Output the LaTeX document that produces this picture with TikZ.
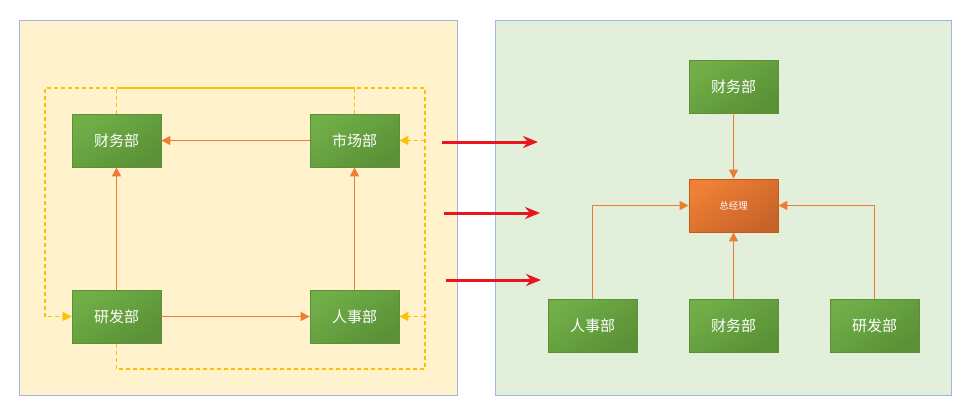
\documentclass[tikz,border=0pt]{standalone}
\usepackage{fontspec}
\newfontfamily\cjk{Noto Sans CJK SC}
\usetikzlibrary{arrows.meta}
\definecolor{PanelYellow}{HTML}{FFF2CC}
\definecolor{PanelGreen}{HTML}{E2EFDA}
\definecolor{PanelBlue}{HTML}{9DB9E0}
\definecolor{DeptLight}{HTML}{71AE48}
\definecolor{DeptDark}{HTML}{5A9136}
\definecolor{DeptLine}{HTML}{5B8F3A}
\definecolor{BossLight}{HTML}{EF8035}
\definecolor{BossDark}{HTML}{C8632A}
\definecolor{BossLine}{HTML}{C55A11}
\definecolor{OrgOrange}{HTML}{ED7D31}
\definecolor{OrgYellow}{HTML}{FFC000}
\definecolor{ArrowRed}{HTML}{E8161E}

\begin{document}
\begin{tikzpicture}[x=1pt, y=-1pt,
  every node/.style={font=\cjk\fontsize{15}{17}\selectfont, text=white},
  dept/.style={draw=DeptLine, line width=0.8pt,
               top color=DeptLight, bottom color=DeptDark, shading angle=35,
               minimum width=89pt, minimum height=53pt, inner sep=0pt},
  boss/.style={dept, draw=BossLine, top color=BossLight, bottom color=BossDark,
               shading angle=35, font=\cjk\fontsize{9.5}{11}\selectfont},
  panel/.style={draw=PanelBlue, line width=1pt},
  flow/.style={-{Triangle[length=9pt,width=9pt]}, OrgOrange, line width=1.4pt},
  link/.style={OrgYellow, line width=1.5pt, dash pattern=on 4pt off 3pt},
  linkarr/.style={link, -{Triangle[length=9pt,width=9pt]}},
  movearr/.style={-{Stealth[length=15pt,width=12pt]}, ArrowRed, line width=3pt},
]
\useasboundingbox (0,0) rectangle (970,416);

%% ── Panels ───────────────────────────────────
\fill[white] (0,0) rectangle (970,416);
\draw[panel, fill=PanelYellow] (19.5,20.5) rectangle (457.5,395);
\draw[panel, fill=PanelGreen]  (495,20.5)  rectangle (951,395);

%% ── Left: departments ────────────────────────
\node[dept] at (116.5,140.5) (fin) {财务部};
\node[dept] at (354.5,140.5) (mkt) {市场部};
\node[dept] at (116.5,316.5) (rd)  {研发部};
\node[dept] at (354.5,316.5) (hr)  {人事部};

%% ── Left: corners of the dashed loop ─────────
\coordinate (topl) at (45,88);
\coordinate (topr) at (425,88);
\coordinate (botr) at (425,369);

%% ── Left: orange flow ────────────────────────
\draw[flow] (mkt.west)  -- (fin.east);
\draw[flow] (rd.north)  -- (fin.south);
\draw[flow] (rd.east)   -- (hr.west);
\draw[flow] (hr.north)  -- (mkt.south);

%% ── Left: yellow loop ────────────────────────
\draw[OrgYellow, line width=1.5pt] (fin.north |- topl) -- (mkt.north |- topl);
\draw[linkarr] (fin.north) -- (fin.north |- topl) -- (topl)
    -- (topl |- rd.west) -- (rd.west);
\draw[link] (mkt.north) -- (mkt.north |- topr) -- (topr) -- (botr)
    -- (botr -| rd.south) -- (rd.south);
\draw[linkarr] (topr |- mkt.east) -- (mkt.east);
\draw[linkarr] (topr |- hr.east)  -- (hr.east);

%% ── Red arrows between panels ────────────────
\coordinate (s1a) at (442,142); \coordinate (s1b) at (538,142);
\coordinate (s2a) at (444,213); \coordinate (s2b) at (540,213);
\coordinate (s3a) at (446,280); \coordinate (s3b) at (541,280);
\draw[movearr] (s1a) -- (s1b);
\draw[movearr] (s2a) -- (s2b);
\draw[movearr] (s3a) -- (s3b);

%% ── Right: manager and departments ───────────
\node[boss] at (733.5,205.5) (gm)   {总经理};
\node[dept] at (733.5,86.5)  (fin2) {财务部};
\node[dept] at (592.5,325.5) (hr2)  {人事部};
\node[dept] at (733.5,325.5) (fin3) {财务部};
\node[dept] at (874.5,325.5) (rd2)  {研发部};

%% ── Right: arrows into manager ───────────────
\draw[flow] (fin2.south) -- (gm.north);
\draw[flow] (fin3.north) -- (gm.south);
\draw[flow] (hr2.north)  |- (gm.west);
\draw[flow] (rd2.north)  |- (gm.east);

\end{tikzpicture}
\end{document}
